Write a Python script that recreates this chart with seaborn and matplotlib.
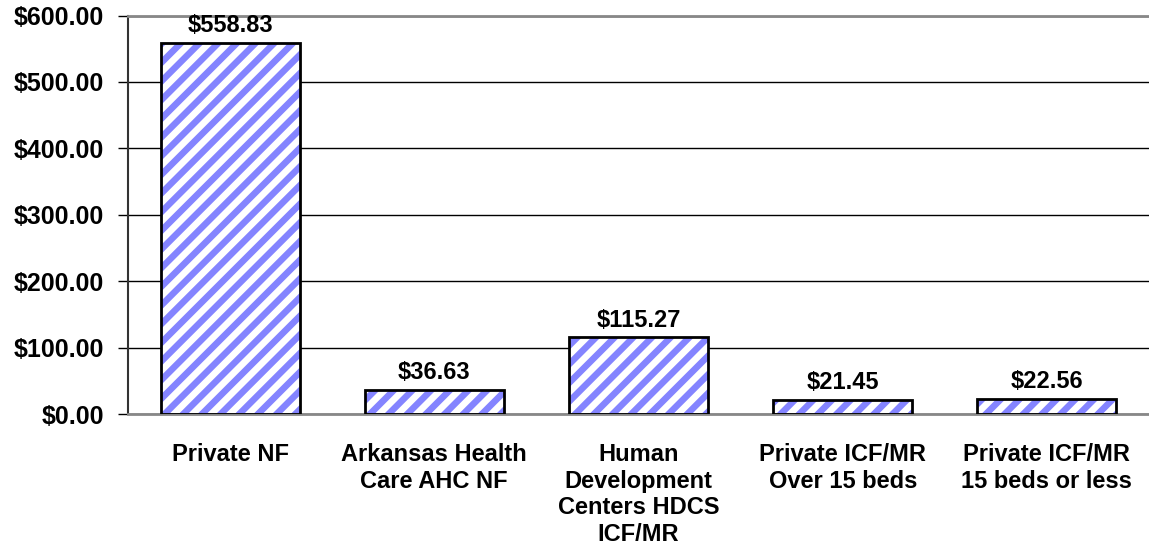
import matplotlib
matplotlib.use('Agg')
import matplotlib.pyplot as plt
import pandas as pd
import seaborn as sns

categories = ['Private NF', 'Arkansas Health\nCare AHC NF', 'Human\nDevelopment\nCenters HDCS\nICF/MR',
              'Private ICF/MR\nOver 15 beds', 'Private ICF/MR\n15 beds or less']
values = [558.83, 36.63, 115.27, 21.45, 22.56]
yticks = [0, 100, 200, 300, 400, 500, 600]

df = pd.DataFrame({'category': categories, 'value': values})

# dpi picked so the '//' hatch spacing matches the stripes of the original
DPI = 112
S = 100 / DPI

sns.set_style('white')
plt.rcParams['font.family'] = ['Liberation Sans', 'DejaVu Sans']
plt.rcParams['font.weight'] = 'bold'
plt.rcParams['text.color'] = 'black'
plt.rcParams['xtick.color'] = 'black'
plt.rcParams['ytick.color'] = 'black'
plt.rcParams['hatch.linewidth'] = 4.2

fig = plt.figure(figsize=(1149 / DPI, 548 / DPI), dpi=DPI)
ax = fig.add_axes([128 / 1149, 1 - 414 / 548, 1 - 128 / 1149, (414 - 15.5) / 548])

# hatched fill first, black outline on top
sns.barplot(data=df, x='category', y='value', color='white', width=0.68, ax=ax, zorder=2)
for p in ax.patches:
    p.set_hatch('//')
    p.set_edgecolor('#8484FF')
    p.set_linewidth(0)
    ax.add_patch(plt.Rectangle(p.get_xy(), p.get_width(), p.get_height(), fill=False,
                               edgecolor='black', linewidth=2 * S, zorder=3))

ax.bar_label(ax.containers[0], labels=[f'${v:,.2f}' for v in values], padding=4 * S,
             fontsize=17 * S, fontweight='bold', color='black')

ax.set_ylim(0, 600)
ax.set_yticks(yticks)
ax.set_yticklabels([f'${v:,.2f}' for v in yticks], fontsize=18 * S, fontweight='bold')
ax.yaxis.grid(True, color='black', linewidth=1 * S)
ax.set_axisbelow(True)
ax.tick_params(axis='y', left=True, length=7 * S, width=1 * S, color='black', pad=10 * S)
ax.tick_params(axis='x', bottom=False, pad=17 * S)
for lbl in ax.get_xticklabels():
    lbl.set_fontsize(17 * S)
    lbl.set_fontweight('bold')
    lbl.set_verticalalignment('top')
    lbl.set_linespacing(1.2)

ax.spines['left'].set_color('#333333')
ax.spines['left'].set_linewidth(1.5 * S)
ax.spines['top'].set_color('#888888')
ax.spines['top'].set_linewidth(2 * S)
ax.spines['bottom'].set_color('#888888')
ax.spines['bottom'].set_linewidth(2 * S)
ax.spines['right'].set_visible(False)
ax.set_xlabel('')
ax.set_ylabel('')

fig.savefig('out.png', dpi=DPI)
